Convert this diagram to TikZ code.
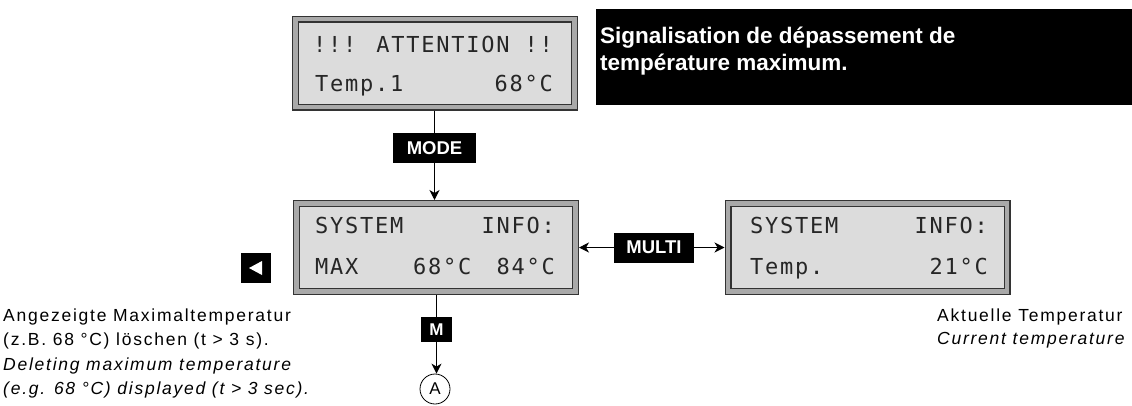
\documentclass[tikz,border=0pt]{standalone}
\usepackage{fontspec}
\setmainfont{Liberation Sans}
\newfontfamily\lcdfont[LetterSpace=8]{DejaVu Sans Mono}
\newfontfamily\notefont[LetterSpace=10]{Liberation Sans}
\usetikzlibrary{arrows.meta}
\definecolor{lcdfill}{HTML}{DCDCDC}
\definecolor{lcdrim}{HTML}{A9A9A9}
\definecolor{lcdline}{HTML}{333333}
\tikzset{
    lcd/.style={draw=lcdline, line width=1.2pt, double=lcdrim, double distance=4.6pt,
        fill=lcdfill, minimum width=279pt, minimum height=88pt, inner sep=0pt, outer sep=3.5pt},
    lcdtext/.style={font=\lcdfont\fontsize{22}{22}\selectfont, text=black!85, inner sep=0pt},
    key/.style={fill=black, text=white, font=\bfseries\fontsize{18.5}{18.5}\selectfont,
        inner sep=0pt, minimum height=30pt},
    note/.style={font=\notefont\fontsize{17.5}{17.5}\selectfont, inner sep=0pt, anchor=base west},
    arr/.style={-{Stealth[length=10pt,width=10pt,inset=3pt]}, line width=1pt},
}
\begin{document}
\begin{tikzpicture}[x=1pt, y=-1pt]
    \useasboundingbox (0, 0) rectangle (1132, 405);
    % displays
    \node[lcd] (warn) at (435, 63) {};
    \node[lcd] (sys) at (436, 247.5) {};
    \node[lcd] (cur) at (867.5, 247.5) {};
    \node[lcdtext, anchor=base west] (warn1) at (313, 52) {!!! ATTENTION !!};
    \node[lcdtext, anchor=base west] (warn2) at (315, 91) {Temp.1};
    \node[lcdtext, anchor=base east] (warn3) at (553, 91) {68°C};
    \node[lcdtext, anchor=base west] (sys1) at (315, 233) {SYSTEM};
    \node[lcdtext, anchor=base east] (sys2) at (555, 233) {INFO:};
    \node[lcdtext, anchor=base west] (sys3) at (315, 274) {MAX};
    \node[lcdtext, anchor=base west] (sys4) at (413, 274) {68°C};
    \node[lcdtext, anchor=base east] (sys5) at (555, 274) {84°C};
    \node[lcdtext, anchor=base west] (cur1) at (750, 233) {SYSTEM};
    \node[lcdtext, anchor=base east] (cur2) at (988, 233) {INFO:};
    \node[lcdtext, anchor=base west] (cur3) at (750, 274) {Temp.};
    \node[lcdtext, anchor=base east] (cur4) at (988, 274) {21°C};
    % keys
    \node[key, minimum width=83pt] (mode) at (434.5, 148) {MODE};
    \node[key, minimum width=80pt] (multi) at (654, 247.5) {MULTI};
    \node[key, minimum width=31pt, minimum height=25pt, font=\bfseries\fontsize{17}{17}\selectfont] (mkey) at (436.5, 329.5) {M};
    \node[fill=black, minimum size=30pt, inner sep=0pt] (back) at (256, 268) {};
    \fill[white] ([xshift=-7pt]back.center) -- ++(13, -7) -- ++(0, 14) -- cycle;
    \node[draw, circle, line width=0.8pt, minimum size=30pt, inner sep=0pt,
        font=\fontsize{17}{17}\selectfont] (loopA) at (435, 389) {A};
    % connectors
    \draw[line width=1pt] (warn.south -| mode.north) -- (mode.north);
    \draw[arr] (mode.south) -- (mode.south |- sys.north);
    \draw[arr] (multi.west) -- (sys.east);
    \draw[arr] (multi.east) -- (cur.west);
    \draw[line width=1pt] (sys.south -| mkey.north) -- (mkey.north);
    \draw[arr] (mkey.south) -- (mkey.south |- loopA.north);
    % title
    \node[fill=black, minimum width=536pt, minimum height=96pt, inner sep=0pt, anchor=north west] (title) at (596, 9) {};
    \node[text=white, font=\bfseries\fontsize{22.5}{22.5}\selectfont, inner sep=0pt, anchor=base west] (title1) at (600, 43) {Signalisation de dépassement de};
    \node[text=white, font=\bfseries\fontsize{22.5}{22.5}\selectfont, inner sep=0pt, anchor=base west] (title2) at (600, 70) {température maximum.};
    % notes
    \node[note] (left1) at (3, 321) {Angezeigte Maximaltemperatur};
    \node[note] (left2) at (3, 345) {(z.B. 68 °C) löschen (t > 3 s).};
    \node[note, font=\notefont\itshape\fontsize{17.5}{17.5}\selectfont] (left3) at (3, 370) {Deleting maximum temperature};
    \node[note, font=\notefont\itshape\fontsize{17.5}{17.5}\selectfont] (left4) at (3, 394) {(e.g. 68 °C) displayed (t > 3 sec).};
    \node[note] (right1) at (937, 321) {Aktuelle Temperatur};
    \node[note, font=\notefont\itshape\fontsize{17.5}{17.5}\selectfont] (right2) at (937, 344) {Current temperature};
\end{tikzpicture}
\end{document}
